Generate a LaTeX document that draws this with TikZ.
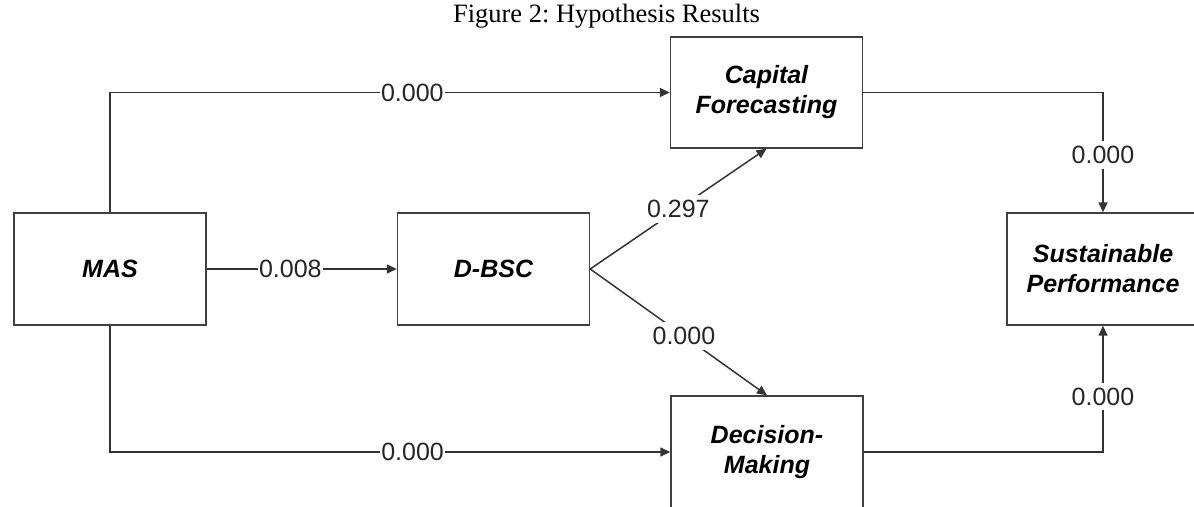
\documentclass[tikz,border=0pt]{standalone}
\usepackage{fontspec}
\setmainfont{Liberation Serif}
\setsansfont{Liberation Sans}
\usetikzlibrary{arrows.meta}

\tikzset{
	varbox/.style={draw=black!75, line width=1.4pt, minimum width=192pt, minimum height=112pt,
		align=center, font=\sffamily\bfseries\itshape\fontsize{25}{30}\selectfont},
	link/.style={draw=black!80, line width=1.5pt, -{Triangle[length=10pt,width=9pt]}},
	pval/.style={fill=white, inner xsep=1pt, inner ysep=5pt, text=black!85,
		font=\sffamily\fontsize{25}{29}\selectfont}
}

\begin{document}
\begin{tikzpicture}[x=1pt, y=-1pt]
		%%%%% START %%%%%
		\useasboundingbox (0, 0) rectangle (1194, 506);
		\clip (0, 0) rectangle (1194, 506);
		
		\node[anchor=base, font=\frenchspacing\fontsize{26.5}{30}\selectfont] (title) at (606.5, 23) {Figure 2: Hypothesis Results};
		
		\node[varbox] (mas) at (110, 269) {MAS};
		\node[varbox] (dbsc) at (493.5, 269) {D-BSC};
		\node[varbox, minimum height=111pt] (capital) at (766.5, 92.5) {Capital\\Forecasting};
		\node[varbox] (decision) at (767, 452) {Decision-\\Making};
		\node[varbox] (sustain) at (1103, 269) {Sustainable\\Performance};
		
		\draw[link] (mas.north) |- node[pval, pos=0.77] {0.000} (capital.west);
		\draw[link] (mas.east) -- node[pval, pos=0.44] {0.008} (dbsc.west);
		\draw[link] (mas.south) |- node[pval, pos=0.77] {0.000} (decision.west);
		
		\draw[link] (dbsc.east) -- node[pval, pos=0.5] {0.297} (capital.south);
		\draw[link] (dbsc.east) -- node[pval, pos=0.53] {0.000} (decision.north);
		
		\draw[link] (capital.east) -| node[pval, pos=0.76] {0.000} (sustain.north);
		\draw[link] (decision.east) -| node[pval, pos=0.72] {0.000} (sustain.south);
		%%%%% END %%%%%
	\end{tikzpicture}
\end{document}
